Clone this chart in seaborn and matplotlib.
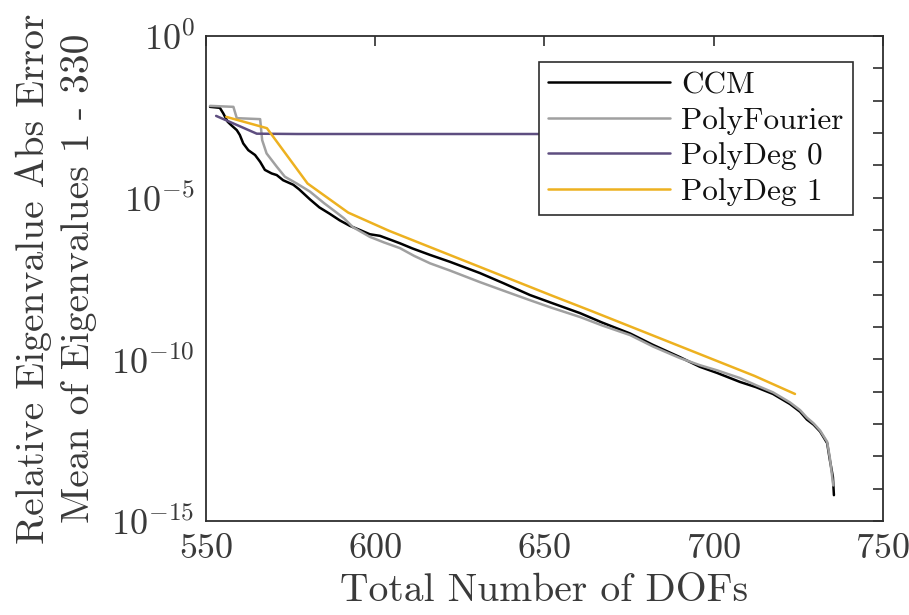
import numpy as np
import pandas as pd
import matplotlib
matplotlib.use("Agg")
import matplotlib.pyplot as plt
import seaborn as sns
from matplotlib.ticker import FixedLocator, NullFormatter

# ---------------- data ----------------
ccm_x = [551.2, 554.1, 555.1, 556.4, 557.6, 559.1, 560.0, 561.0, 562.5, 564.5,
         566.0, 567.4, 569.4, 570.9, 572.8, 575.8, 577.5, 580.7, 583.5, 586.6,
         589.5, 592.5, 595.5, 598.4, 601.4, 604.5, 607.3, 611.0, 616.2, 622.0,
         630.9, 638.0, 645.7, 652.0, 660.5, 667.0, 675.3, 682.0, 690.0, 695.9,
         701.0, 707.8, 712.5, 717.5, 722.5, 725.5, 727.5, 729.5, 731.4, 733.5,
         734.3, 735.2, 735.5]
ccm_log = [-2.19, -2.22, -2.39, -2.65, -2.77, -2.91, -3.06, -3.32, -3.53, -3.68,
           -3.89, -4.14, -4.25, -4.30, -4.46, -4.60, -4.74, -5.05, -5.30, -5.50,
           -5.70, -5.87, -6.00, -6.13, -6.18, -6.30, -6.41, -6.57, -6.77, -6.98,
           -7.33, -7.65, -8.01, -8.25, -8.57, -8.86, -9.20, -9.55, -9.93, -10.23,
           -10.42, -10.70, -10.86, -11.07, -11.38, -11.62, -11.86, -12.02, -12.23, -12.59,
           -13.11, -13.64, -14.20]

pf_x = [551.2, 558.1, 559.1, 566.0, 566.6, 567.9, 570.9, 573.3, 576.8, 580.7,
        584.9, 588.7, 590.8, 593.4, 598.4, 602.5, 607.3, 611.5, 616.2, 622.0,
        630.9, 638.0, 645.7, 652.0, 660.5, 667.0, 675.3, 682.0, 690.0, 695.9,
        701.0, 707.8, 712.5, 717.5, 722.5, 725.5, 727.5, 729.5, 731.4, 733.5,
        734.3, 735.3]
pf_log = [-2.16, -2.19, -2.54, -2.57, -3.22, -3.63, -4.04, -4.35, -4.56, -4.81,
          -5.17, -5.47, -5.64, -5.91, -6.21, -6.38, -6.56, -6.80, -7.03, -7.25,
          -7.61, -7.88, -8.17, -8.40, -8.69, -8.95, -9.25, -9.60, -9.96, -10.18,
          -10.34, -10.58, -10.80, -11.02, -11.33, -11.57, -11.80, -11.98, -12.20, -12.55,
          -13.05, -13.90]

pd0_x = [553, 565, 577, 589, 601, 613, 625, 637, 649]
pd0_log = [-2.47, -3.02, -3.03, -3.03, -3.03, -3.03, -3.03, -3.03, -3.03]

pd1_x = [556, 568, 580, 592, 604, 616, 628, 640, 652, 664, 676, 688, 700, 712, 724]
pd1_log = [-2.50, -2.85, -4.56, -5.46, -6.02, -6.52, -7.02, -7.52, -8.02, -8.51,
           -9.01, -9.51, -10.01, -10.51, -11.07]

series_names = ["CCM", "PolyFourier", "PolyDeg 0", "PolyDeg 1"]
series_colors = ["#000000", "#a0a0a0", "#5e4e80", "#edb120"]

x_ticks = [550, 600, 650, 700, 750]
y_major_exp = [0, -5, -10, -15]
y_tick_labels = [r"$10^{0}$", r"$10^{-5}$", r"$10^{-10}$", r"$10^{-15}$"]

# ---------------- build long table ----------------
frames = []
for name, xs, ls in zip(series_names,
                        [ccm_x, pf_x, pd0_x, pd1_x],
                        [ccm_log, pf_log, pd0_log, pd1_log]):
    frames.append(pd.DataFrame({"dofs": xs,
                                "err": np.power(10.0, np.array(ls)),
                                "method": name}))
df = pd.concat(frames, ignore_index=True)

# ---------------- style ----------------
sns.set_style("white")
plt.rcParams["font.family"] = ["cmr10", "DejaVu Serif"]
plt.rcParams["mathtext.fontset"] = "cm"
plt.rcParams["axes.unicode_minus"] = False
plt.rcParams["axes.formatter.use_mathtext"] = True

axcol = "#2e2e2e"
txtcol = "#3a3a3a"

fig = plt.figure(figsize=(9.09, 6.15), dpi=100)
ax = fig.add_axes([0.2266, 0.1528, 0.7448, 0.7886])

sns.lineplot(data=df, x="dofs", y="err", hue="method",
             hue_order=series_names, palette=series_colors,
             estimator=None, sort=True, linewidth=1.8, ax=ax)

ax.set_yscale("log")
ax.set_xlim(550, 750)
ax.set_ylim(1e-15, 1e0)

ax.set_xticks(x_ticks)
ax.set_xticklabels([str(v) for v in x_ticks])
ax.yaxis.set_major_locator(FixedLocator([10.0 ** e for e in y_major_exp]))
ax.set_yticklabels(y_tick_labels)
ax.yaxis.set_minor_locator(FixedLocator([10.0 ** (-k) for k in range(16)
                                         if k % 5 != 0]))
ax.yaxis.set_minor_formatter(NullFormatter())

ax.tick_params(axis="both", which="both", direction="in", length=7,
               width=1.2, color=axcol, top=True, right=True,
               labelsize=26, labelcolor=txtcol)
ax.tick_params(axis="x", pad=9)
ax.tick_params(axis="y", pad=8)

for sp in ax.spines.values():
    sp.set_color(axcol)
    sp.set_linewidth(1.3)

ax.set_xlabel("Total Number of DOFs", fontsize=28.5, color=txtcol, labelpad=6)
ax.set_ylabel("Relative Eigenvalue Abs Error\nMean of Eigenvalues 1 - 330",
              fontsize=28.5, color=txtcol, labelpad=10, linespacing=1.35)

leg = ax.legend(loc="upper right", bbox_to_anchor=(0.9557, 0.9464),
                bbox_transform=ax.transAxes, borderaxespad=0,
                fontsize=22.5, frameon=True, fancybox=False,
                handlelength=3.9, handletextpad=0.35, labelspacing=0.24,
                borderpad=0.3, title=None)
leg.get_frame().set_edgecolor(axcol)
leg.get_frame().set_linewidth(1.2)
leg.get_frame().set_alpha(1)
for t in leg.get_texts():
    t.set_color("#111111")
for l in leg.get_lines():
    l.set_linewidth(1.8)

fig.savefig("out.png", dpi=100)
